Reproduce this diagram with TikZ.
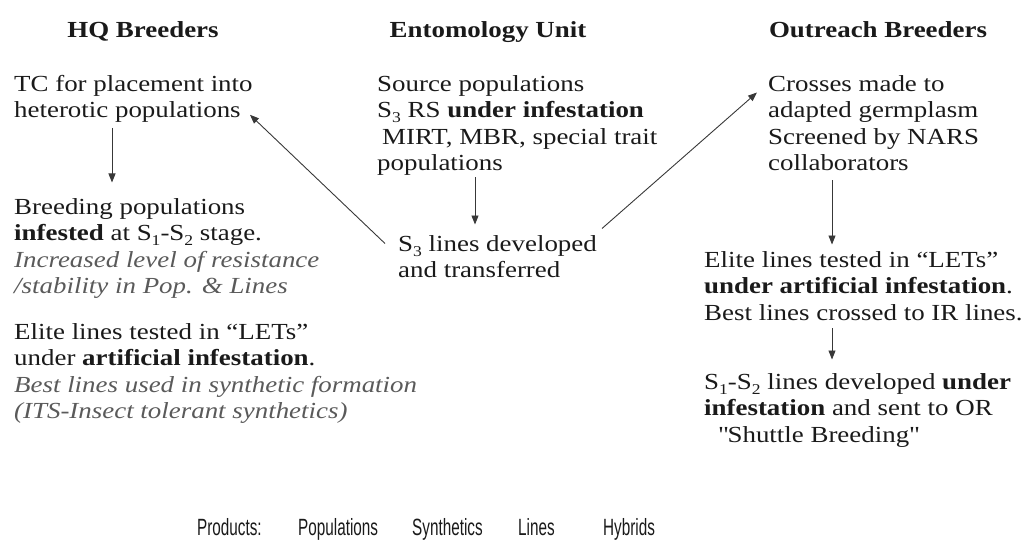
\documentclass[tikz,border=0pt]{standalone}
\usepackage{fontspec}
\setmainfont{Liberation Serif}[FakeStretch=1.17]
\newfontfamily\prodfont[FakeStretch=0.65]{Liberation Sans}
\usetikzlibrary{arrows.meta,calc}
\definecolor{ink}{HTML}{1A1A1A}
\definecolor{notegray}{HTML}{5A5A5A}
\newcommand\lowsub[1]{\raisebox{-0.22em}{\fontsize{15}{15}\selectfont #1}}
\newcommand\nt{\color{notegray}\itshape}
\begin{document}
\begin{tikzpicture}[x=1pt,y=-1pt,
  txt/.style={anchor=base west, inner sep=0pt, align=left, text=ink,
    font=\fontsize{23}{26.3}\selectfont},
  head/.style={anchor=base, inner sep=0pt, text=ink,
    font=\fontsize{23}{26.3}\selectfont\bfseries},
  prod/.style={anchor=base west, inner sep=0pt, text=ink,
    font=\prodfont\fontsize{23.5}{26}\selectfont},
  arr/.style={draw=black!78, line width=0.9pt, -{Triangle[length=9pt,width=7pt]}}]
\useasboundingbox (0,0) rectangle (1027,548);
% headings
\node[head] (hq) at (143,38) {HQ Breeders};
\node[head] (en) at (488,38) {Entomology Unit};
\node[head] (or) at (878,38) {Outreach Breeders};
% HQ column (node base = baseline of the last line)
\node[txt] (hqA) at (14,117.8) {TC for placement into\\heterotic populations};
\node[txt] (hqB) at (14,293.4) {Breeding populations\\
  \textbf{infested} at S\lowsub{1}-S\lowsub{2} stage.\\
  {\nt Increased level of resistance}\\
  {\nt /stability in Pop. \& Lines}};
\node[txt] (hqC) at (14,418.4) {Elite lines tested in “LETs”\\
  under \textbf{artificial infestation}.\\
  {\nt Best lines used in synthetic formation}\\
  {\nt (ITS-Insect tolerant synthetics)}};
% Entomology column
\node[txt] (enA) at (377,170.4) {Source populations\\
  S\lowsub{3} RS \textbf{under infestation}\\
  \hspace*{5pt}MIRT, MBR, special trait\\
  populations};
\node[txt] (enB) at (398,277.8) {S\lowsub{3} lines developed\\and transferred};
% Outreach column
\node[txt] (orA) at (768,170.4) {Crosses made to\\adapted germplasm\\Screened by NARS\\collaborators};
\node[txt] (orB) at (704,320.1) {Elite lines tested in “LETs”\\
  \textbf{under artificial infestation}.\\
  Best lines crossed to IR lines.};
\node[txt] (orC) at (704,442.1) {S\lowsub{1}-S\lowsub{2} lines developed \textbf{under}\\
  \textbf{infestation} and sent to OR\\
  \hspace*{14pt}\textquotedbl Shuttle Breeding\textquotedbl};
% products
\node[prod] (p0) at (197,535) {Products:};
\node[prod] (p1) at (298,535) {Populations};
\node[prod] (p2) at (412,535) {Synthetics};
\node[prod] (p3) at (518,535) {Lines};
\node[prod] (p4) at (603,535) {Hybrids};
% connectors
\draw[arr] ($(hqA.base west)+(98,10)$) -- ($(hqB.base west)+(98,-110.9)$);
\draw[arr] ($(enA.base west)+(98,7)$) -- ($(enB.base west)+(77,-53.3)$);
\draw[arr] ($(orA.base west)+(64,10)$) -- ($(orB.base west)+(128,-75.6)$);
\draw[arr] ($(orB.base west)+(128,8)$) -- ($(orC.base west)+(128,-82.6)$);
\draw[arr] ($(enB.base west)+(-13,-34.3)$) -- ($(hqA.base west)+(236,-3)$);
\draw[arr] ($(enB.base west)+(204,-49.3)$) -- ($(orA.base west)+(-11,-77.9)$);
\end{tikzpicture}
\end{document}
